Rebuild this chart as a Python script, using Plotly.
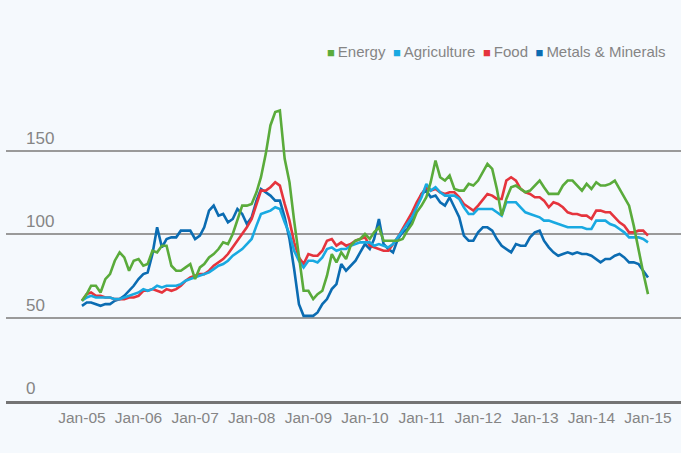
import pandas as pd
import plotly.graph_objects as go

# ---- data (monthly index values, Jan-05 .. Jan-15) ----
MONTHS = pd.date_range("2005-01-01", periods=121, freq="MS")
X_TICKS = MONTHS[::12]  # Jan of each year, Jan-05 .. Jan-15

SERIES_NAMES = ["Energy", "Agriculture", "Food", "Metals & Minerals"]
SERIES_COLORS = ["#5aab3b", "#19a9e1", "#e5343d", "#0b6cb2"]

energy = [60, 64, 69, 69, 65, 73, 76, 84, 89, 86, 78, 84,
          85, 81, 82, 90, 89, 93, 93, 81, 78, 78, 80, 82,
          73, 80, 82, 86, 88, 91, 95, 94, 100, 109, 117, 117,
          118, 125, 134, 148, 165, 173, 174, 145, 131, 108, 85, 66,
          66, 61, 64, 66, 75, 88, 83, 89, 85, 93, 96, 97,
          100, 97, 101, 104, 96, 96, 96, 96, 97, 102, 106, 113,
          117, 122, 131, 144, 134, 132, 135, 127, 126, 126, 130, 129,
          132, 137, 142, 139, 127, 111, 121, 128, 129, 127, 125, 126,
          129, 132, 128, 124, 124, 124, 129, 132, 132, 129, 126, 130,
          127, 131, 129, 129, 130, 132, 127, 122, 117, 105, 90, 77,
          64]

agriculture = [60, 62, 63, 62, 62, 62, 62, 61, 61, 62, 63, 64,
               65, 67, 66, 67, 69, 68, 69, 69, 69, 70, 72, 73,
               74, 75, 76, 77, 79, 81, 82, 84, 87, 89, 91, 94,
               97, 105, 112, 113, 114, 116, 115, 107, 100, 90, 84, 80,
               84, 84, 83, 86, 91, 92, 90, 91, 91, 93, 94, 95,
               95, 95, 93, 94, 93, 92, 94, 98, 102, 106, 110, 116,
               122, 130, 126, 128, 125, 123, 123, 123, 121, 116, 112, 112,
               115, 115, 115, 115, 113, 111, 119, 119, 119, 116, 113, 112,
               111, 110, 108, 108, 107, 106, 105, 104, 104, 104, 104, 103,
               103, 108, 108, 108, 106, 105, 103, 101, 98, 98, 98, 97,
               95]

food = [60, 64, 65, 63, 63, 62, 62, 61, 61, 61, 62, 62,
        63, 66, 66, 67, 66, 65, 67, 66, 67, 69, 72, 74,
        75, 76, 76, 78, 81, 83, 85, 88, 92, 96, 100, 104,
        109, 118, 126, 126, 128, 131, 129, 118, 108, 95, 86, 82,
        88, 87, 87, 90, 96, 97, 93, 95, 93, 94, 96, 97,
        98, 93, 92, 91, 90, 90, 94, 98, 103, 108, 113, 119,
        124, 128, 126, 127, 125, 124, 125, 125, 122, 118, 116, 114,
        117, 121, 124, 123, 121, 121, 132, 134, 132, 127, 125, 124,
        122, 122, 120, 116, 119, 118, 116, 113, 112, 112, 111, 111,
        109, 114, 114, 113, 113, 110, 107, 105, 101, 101, 102, 102,
        99]

metals = [57, 59, 59, 58, 57, 58, 58, 60, 61, 63, 66, 69,
          73, 76, 77, 88, 104, 92, 97, 98, 98, 102, 102, 102,
          97, 99, 104, 114, 117, 111, 112, 107, 109, 115, 112, 106,
          110, 120, 127, 125, 123, 120, 120, 110, 97, 79, 58, 51,
          51, 51, 53, 58, 61, 67, 70, 82, 78, 81, 84, 89,
          94, 91, 97, 109, 94, 91, 89, 97, 101, 103, 109, 117,
          124, 126, 122, 123, 119, 117, 122, 116, 110, 99, 96, 96,
          101, 104, 104, 102, 97, 93, 91, 89, 94, 93, 93, 98,
          101, 102, 96, 92, 89, 87, 88, 89, 88, 89, 88, 88,
          87, 85, 83, 85, 85, 87, 88, 86, 83, 83, 82, 78,
          74]

Y_TICKS = [0, 50, 100, 150, 200]
Y_TICK_TEXT = ["0", "50", "100", "150", ""]

# ---- styling ----
BG = "#f5f9fd"
TEXT = "#858585"
FONT = "Liberation Sans, Arial, sans-serif"

values = {"Energy": energy, "Agriculture": agriculture, "Food": food,
          "Metals & Minerals": metals}
colors = dict(zip(SERIES_NAMES, SERIES_COLORS))

fig = go.Figure()
for name in ["Metals & Minerals", "Food", "Agriculture", "Energy"]:
    fig.add_trace(go.Scatter(
        x=MONTHS, y=values[name], mode="lines", name=name,
        line=dict(color=colors[name], width=2.6),
        showlegend=False,
    ))

# legend row: colored square, small gap, series name
legend_text = "&#8194;".join(
    f"<span style='color:{c};font-size:13px'>■</span>&#8201;{n}"
    for n, c in zip(SERIES_NAMES, SERIES_COLORS)
)
fig.add_annotation(
    x=0.981, y=1.045, xref="paper", yref="paper",
    xanchor="right", yanchor="middle", showarrow=False,
    text=legend_text, font=dict(family=FONT, size=15, color=TEXT),
)

# y tick labels sit inside the plot, just above their gridlines
for v, t in zip(Y_TICKS, Y_TICK_TEXT):
    if t:
        fig.add_annotation(
            x=0.026, y=v, xref="paper", yref="y",
            xanchor="left", yanchor="bottom", yshift=1,
            showarrow=False, text=t,
            font=dict(family=FONT, size=17, color=TEXT),
        )

fig.update_layout(
    width=681, height=453,
    margin=dict(l=6, r=0, t=67, b=52),
    paper_bgcolor=BG, plot_bgcolor=BG,
    font=dict(family=FONT, color=TEXT),
    xaxis=dict(
        type="date",
        range=["2003-08-30", "2015-08-02"],
        tickvals=X_TICKS, tickformat="%b-%y",
        tickangle=0,
        showgrid=False, zeroline=False,
        showline=True, linecolor="#747474", linewidth=3,
        ticks="", tickfont=dict(size=15.5, color=TEXT, family=FONT),
    ),
    yaxis=dict(
        range=[0, 200],
        tickvals=Y_TICKS, ticktext=Y_TICK_TEXT,
        showticklabels=False,
        showgrid=True, gridcolor="#9a9a9a", gridwidth=1.5,
        zeroline=False, showline=False, ticks="",
    ),
)

fig.write_html("out.html", config={"displayModeBar": False},
               post_script="document.body.style.margin='0';")
